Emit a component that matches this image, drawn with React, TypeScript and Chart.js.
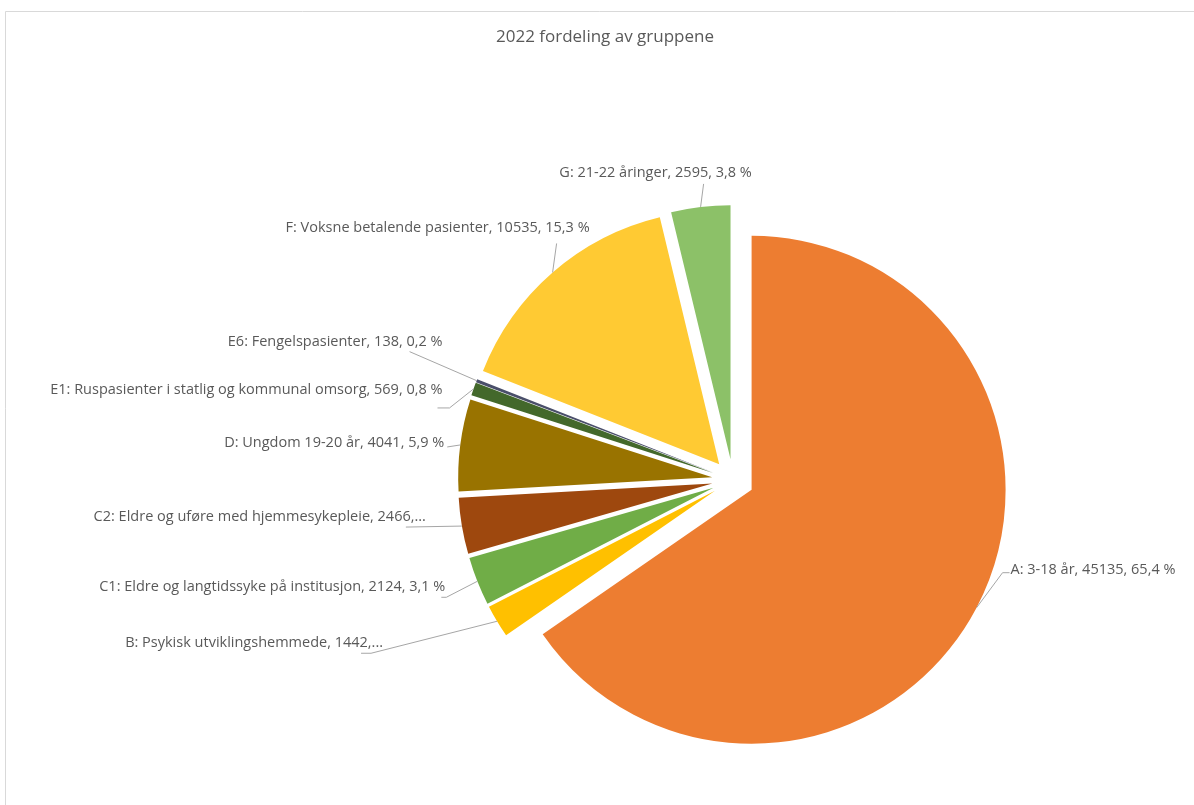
import React, { useEffect, useRef } from "react";
import { Chart, registerables } from "chart.js";

Chart.register(...registerables);

const title = "2022 fordeling av gruppene";
const categories = [
  "A: 3-18 år",
  "B: Psykisk utviklingshemmede",
  "C1: Eldre og langtidssyke på institusjon",
  "C2: Eldre og uføre med hjemmesykepleie",
  "D: Ungdom 19-20 år",
  "E1: Ruspasienter i statlig og kommunal omsorg",
  "E6: Fengelspasienter",
  "F: Voksne betalende pasienter",
  "G: 21-22 åringer",
];
const values = [45135, 1442, 2124, 2466, 4041, 569, 138, 10535, 2595];
const truncated = [false, true, false, true, false, false, false, false, false];
const colors = [
  "#ED7D31",
  "#FFC000",
  "#70AD47",
  "#9E480E",
  "#997300",
  "#43682B",
  "#4A4F6A",
  "#FFCA33",
  "#8CC168",
];

// label placement relative to each slice's outer mid-point
const labelTextOffset: [number, number][] = [
  [34, -38],
  [-114, 22],
  [-32, 6],
  [-36, -9],
  [-16, -2],
  [-31, 1],
  [-34, -39],
  [-115, -45],
  [-45, -34],
];
const labelAlign: CanvasTextAlign[] = ["left", "right", "right", "right", "right", "right", "right", "center", "center"];
const leaderStart: [number, number][] = [
  [33, -35],
  [-136, 32],
  [-36, 16],
  [-56, 1],
  [-13, 2],
  [-36, 19],
  [-67, -29],
  [4, -29],
  [3, -23],
];
const leaderElbow: [number, number][] = [
  [26, -35],
  [-126, 32],
  [-31, 16],
  [-56, 1],
  [-13, 2],
  [-24, 19],
  [-67, -29],
  [4, -29],
  [3, -23],
];

const EXPLODE = 21;
const RADIUS = 254;
const FONT = '"Open Sans", sans-serif';

function labelText(i: number) {
  const total = values.reduce((a, b) => a + b, 0);
  const pct = ((values[i] / total) * 100).toFixed(1).replace(".", ",");
  if (truncated[i]) return `${categories[i]}, ${values[i]},...`;
  return `${categories[i]}, ${values[i]}, ${pct} %`;
}

const explodePlugin = {
  id: "explode",
  afterDatasetUpdate(chart: any) {
    const meta = chart.getDatasetMeta(0);
    meta.data.forEach((arc: any) => {
      const mid = (arc.startAngle + arc.endAngle) / 2;
      arc.x += EXPLODE * Math.cos(mid);
      arc.y += EXPLODE * Math.sin(mid);
    });
  },
};

const decorPlugin = {
  id: "decor",
  beforeDraw(chart: any) {
    const ctx = chart.ctx;
    ctx.save();
    ctx.fillStyle = "#ffffff";
    ctx.fillRect(0, 0, chart.width, chart.height);
    ctx.strokeStyle = "#D9D9D9";
    ctx.lineWidth = 1;
    ctx.beginPath();
    ctx.moveTo(5.5, chart.height);
    ctx.lineTo(5.5, 11.5);
    ctx.lineTo(chart.width, 11.5);
    ctx.stroke();
    ctx.fillStyle = "#595959";
    ctx.font = `17px ${FONT}`;
    ctx.textAlign = "center";
    ctx.textBaseline = "middle";
    ctx.fillText(title, 605, 37);
    ctx.restore();
  },
  afterDatasetsDraw(chart: any) {
    const ctx = chart.ctx;
    const meta = chart.getDatasetMeta(0);
    ctx.save();
    meta.data.forEach((arc: any, i: number) => {
      const mid = (arc.startAngle + arc.endAngle) / 2;
      const ax = arc.x + arc.outerRadius * Math.cos(mid);
      const ay = arc.y + arc.outerRadius * Math.sin(mid);
      ctx.strokeStyle = "#A6A6A6";
      ctx.lineWidth = 1;
      ctx.beginPath();
      ctx.moveTo(ax + leaderStart[i][0], ay + leaderStart[i][1]);
      ctx.lineTo(ax + leaderElbow[i][0], ay + leaderElbow[i][1]);
      ctx.lineTo(ax, ay);
      ctx.stroke();
      ctx.fillStyle = "#595959";
      ctx.font = `14.5px ${FONT}`;
      ctx.textAlign = labelAlign[i];
      ctx.textBaseline = "middle";
      ctx.fillText(labelText(i), ax + labelTextOffset[i][0], ay + labelTextOffset[i][1]);
    });
    ctx.restore();
  },
};

export default function App() {
  const ref = useRef<HTMLCanvasElement>(null);
  useEffect(() => {
    if (!ref.current) return;
    const chart = new Chart(ref.current, {
      type: "pie",
      data: {
        labels: categories,
        datasets: [
          {
            data: values,
            backgroundColor: colors,
            borderWidth: 0,
            radius: RADIUS,
            clip: false,
          } as any,
        ],
      },
      options: {
        animation: false,
        responsive: false,
        layout: { padding: { left: 333, right: 61, top: 180, bottom: 25 } },
        plugins: {
          legend: { display: false },
          title: { display: false },
          tooltip: { enabled: false },
        },
      } as any,
      plugins: [explodePlugin, decorPlugin],
    });
    return () => chart.destroy();
  }, []);
  return (
    <div style={{ position: "fixed", left: 0, top: 0, width: 1194, height: 805, background: "#fff" }}>
      <canvas ref={ref} width={1194} height={805} />
    </div>
  );
}
